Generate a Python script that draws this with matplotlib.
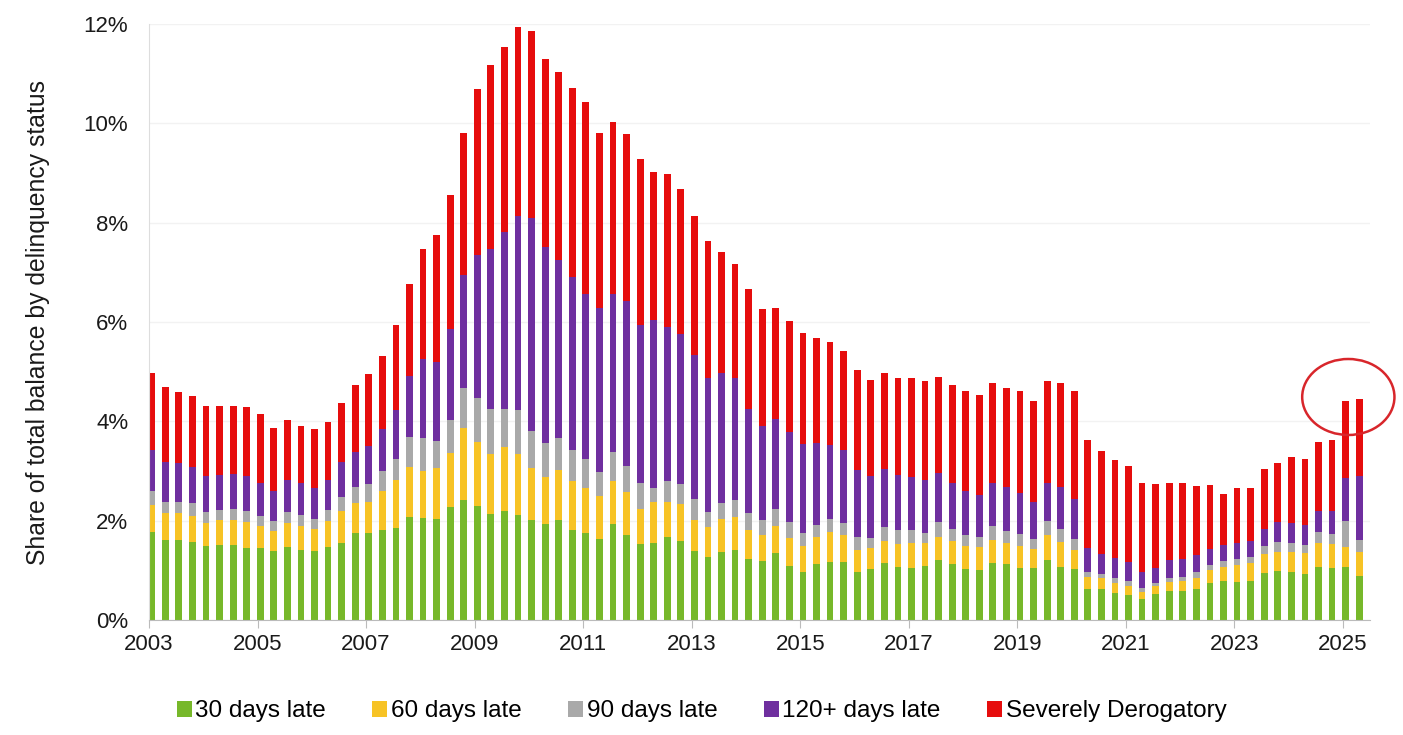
import numpy as np
import matplotlib.pyplot as plt
from matplotlib.patches import Ellipse

plt.rcParams['font.family'] = ['Liberation Sans', 'DejaVu Sans']

# quarters 2003Q1 .. 2025Q2
quarters = [f"{y}Q{q}" for y in range(2003, 2026) for q in range(1, 5)][:90]

# share of total balance (%) by delinquency status
late30 = [1.77, 1.61, 1.61, 1.58, 1.48, 1.50, 1.50, 1.44, 1.44, 1.38,
          1.46, 1.40, 1.38, 1.46, 1.56, 1.75, 1.75, 1.81, 1.86, 2.08,
          2.05, 2.03, 2.27, 2.42, 2.29, 2.13, 2.19, 2.11, 2.02, 1.94,
          2.02, 1.82, 1.76, 1.63, 1.93, 1.72, 1.52, 1.56, 1.68, 1.59,
          1.38, 1.27, 1.36, 1.40, 1.22, 1.19, 1.34, 1.09, 0.97, 1.13,
          1.17, 1.16, 0.97, 1.02, 1.15, 1.07, 1.04, 1.09, 1.21, 1.12,
          1.02, 1.01, 1.15, 1.12, 1.04, 1.04, 1.21, 1.07, 1.03, 0.62,
          0.62, 0.54, 0.50, 0.42, 0.52, 0.59, 0.59, 0.62, 0.74, 0.79,
          0.77, 0.79, 0.95, 0.99, 0.96, 0.92, 1.07, 1.04, 1.06, 0.89]
late60 = [0.55, 0.54, 0.55, 0.51, 0.47, 0.51, 0.51, 0.54, 0.45, 0.42,
          0.50, 0.49, 0.45, 0.54, 0.64, 0.60, 0.62, 0.79, 0.96, 1.01,
          0.94, 1.04, 1.09, 1.45, 1.29, 1.21, 1.29, 1.23, 1.05, 0.93,
          0.99, 0.98, 0.90, 0.87, 0.87, 0.86, 0.72, 0.82, 0.70, 0.74,
          0.64, 0.60, 0.67, 0.68, 0.59, 0.52, 0.55, 0.57, 0.51, 0.55,
          0.61, 0.55, 0.44, 0.42, 0.45, 0.46, 0.50, 0.45, 0.47, 0.48,
          0.46, 0.45, 0.46, 0.42, 0.45, 0.39, 0.50, 0.51, 0.38, 0.24,
          0.22, 0.21, 0.18, 0.15, 0.16, 0.18, 0.20, 0.22, 0.27, 0.28,
          0.34, 0.35, 0.37, 0.37, 0.40, 0.42, 0.47, 0.48, 0.40, 0.47]
late90 = [0.28, 0.23, 0.22, 0.26, 0.22, 0.20, 0.22, 0.22, 0.20, 0.19,
          0.21, 0.22, 0.20, 0.21, 0.28, 0.33, 0.37, 0.39, 0.42, 0.60,
          0.67, 0.54, 0.67, 0.80, 0.88, 0.90, 0.76, 0.88, 0.74, 0.69,
          0.66, 0.62, 0.58, 0.47, 0.59, 0.52, 0.51, 0.28, 0.42, 0.41,
          0.41, 0.30, 0.32, 0.34, 0.35, 0.30, 0.34, 0.32, 0.28, 0.23,
          0.25, 0.24, 0.27, 0.22, 0.28, 0.28, 0.27, 0.22, 0.30, 0.23,
          0.23, 0.22, 0.28, 0.26, 0.25, 0.21, 0.28, 0.25, 0.23, 0.10,
          0.08, 0.09, 0.11, 0.07, 0.07, 0.07, 0.08, 0.12, 0.10, 0.12,
          0.11, 0.12, 0.17, 0.22, 0.18, 0.17, 0.24, 0.22, 0.54, 0.26]
late120 = [0.82, 0.81, 0.79, 0.74, 0.73, 0.71, 0.71, 0.70, 0.67, 0.61,
           0.65, 0.64, 0.62, 0.61, 0.71, 0.71, 0.76, 0.85, 0.99, 1.23,
           1.60, 1.59, 1.83, 2.27, 2.89, 3.23, 3.58, 3.91, 4.28, 3.95,
           3.58, 3.48, 3.33, 3.32, 3.18, 3.33, 3.19, 3.38, 3.10, 3.01,
           2.90, 2.70, 2.62, 2.46, 2.08, 1.90, 1.81, 1.81, 1.78, 1.65,
           1.49, 1.47, 1.34, 1.23, 1.17, 1.11, 1.06, 1.06, 0.97, 0.92,
           0.89, 0.84, 0.87, 0.88, 0.82, 0.73, 0.77, 0.84, 0.79, 0.48,
           0.41, 0.40, 0.38, 0.32, 0.30, 0.37, 0.35, 0.35, 0.31, 0.32,
           0.32, 0.33, 0.34, 0.40, 0.41, 0.40, 0.41, 0.45, 0.85, 1.27]
severe = [1.55, 1.51, 1.43, 1.41, 1.41, 1.39, 1.37, 1.39, 1.39, 1.26,
          1.21, 1.16, 1.20, 1.17, 1.17, 1.34, 1.45, 1.48, 1.71, 1.84,
          2.21, 2.56, 2.69, 2.87, 3.35, 3.71, 3.71, 3.81, 3.76, 3.79,
          3.78, 3.81, 3.85, 3.51, 3.45, 3.36, 3.35, 2.99, 3.08, 2.92,
          2.80, 2.76, 2.43, 2.29, 2.42, 2.35, 2.25, 2.24, 2.23, 2.11,
          2.08, 2.00, 2.01, 1.94, 1.92, 1.95, 2.00, 1.99, 1.95, 1.99,
          2.02, 2.02, 2.01, 2.00, 2.05, 2.04, 2.06, 2.11, 2.18, 2.18,
          2.08, 1.98, 1.94, 1.79, 1.69, 1.55, 1.54, 1.39, 1.30, 1.03,
          1.11, 1.06, 1.21, 1.19, 1.34, 1.33, 1.40, 1.43, 1.55, 1.56]

series = [late30, late60, late90, late120, severe]
labels = ["30 days late", "60 days late", "90 days late", "120+ days late",
          "Severely Derogatory"]
colors = ["#77b82a", "#f7c325", "#a9a9a9", "#6f2f9f", "#e60d0d"]

years = list(range(2003, 2026, 2))

fig = plt.figure(figsize=(14.03, 7.35), dpi=100)
ax = fig.add_axes([0.1062, 0.1565, 0.8703, 0.8108])

x = np.arange(len(quarters))
bottom = np.zeros(len(quarters))
for vals, lab, col in zip(series, labels, colors):
    vals = np.array(vals)
    ax.bar(x, vals, width=0.5, bottom=bottom, color=col, label=lab, zorder=2)
    bottom += vals

ax.set_xlim(-0.2, 89.8)
ax.set_ylim(0, 12)
ax.set_yticks(np.arange(0, 13, 2))
ax.set_yticklabels([f"{v}%" for v in range(0, 13, 2)])
ax.set_xticks([quarters.index(f"{y}Q1") - 0.2 for y in years])
ax.set_xticklabels([str(y) for y in years])
ax.tick_params(axis='both', labelsize=16, colors='#1a1a1a')
ax.tick_params(axis='x', length=6, color='#bbbbbb', pad=4)
ax.tick_params(axis='y', length=0, pad=15)
ax.grid(axis='y', color='#f2f2f2', linewidth=1, zorder=0)

for s in ['top', 'right']:
    ax.spines[s].set_visible(False)
ax.spines['left'].set_color('#dddddd')
ax.spines['bottom'].set_color('#bbbbbb')

ax.set_ylabel("Share of total balance by delinquency status", fontsize=17.8,
              color='#1a1a1a', labelpad=24)

# red circle around the latest quarters
circ = Ellipse((88.2, 4.49), 6.8, 1.53, fill=False, edgecolor='#d8262b',
               linewidth=1.8, clip_on=False, zorder=3)
ax.add_patch(circ)

fig.legend(loc='center', bbox_to_anchor=(0.5, 0.032), ncol=5, frameon=False,
           fontsize=17.5, handlelength=0.62, handleheight=0.62,
           handletextpad=0.15, columnspacing=1.9)

fig.savefig("out.png", dpi=100)
